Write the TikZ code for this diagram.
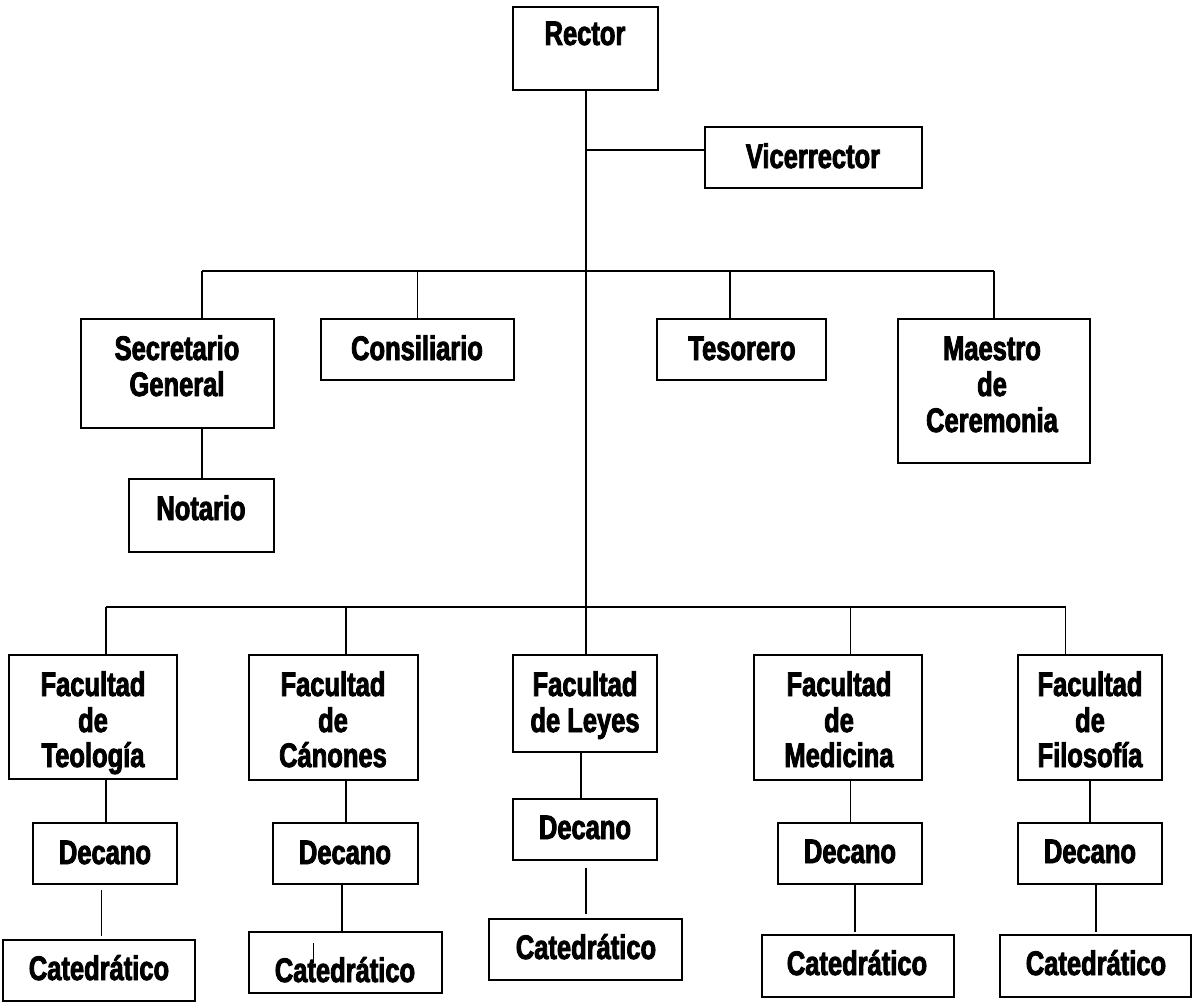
\documentclass[tikz,border=0pt]{standalone}
\usepackage{fontspec}
\newfontfamily\heavy{Liberation Sans Bold}[FakeStretch=0.75,FakeBold=2.5]
\begin{document}
\begin{tikzpicture}[x=1pt,y=-1pt,
  line width=1.8pt,
  lbl/.style={anchor=base, inner sep=0pt, font=\heavy\fontsize{34}{36}\selectfont},
  link/.style={line width=1.8pt}]
\useasboundingbox (0,0) rectangle (1192,1006);

% box at corners (x1,y1) - (x2,y2)
\newcommand\orgbox[5]{%
  \pgfmathsetmacro\bw{#4-#2}\pgfmathsetmacro\bh{#5-#3}%
  \node[draw, inner sep=0pt, minimum width=\bw pt, minimum height=\bh pt]
    (#1) at ({(#2+#4)/2},{(#3+#5)/2}) {};}
\newcommand\txt[3]{\node[lbl] at (#1,#2) {#3};}

% ---- top level
\orgbox{rector}{513}{7}{658}{90}
\orgbox{vice}{705}{127}{922}{188}
\txt{585}{45}{Rector}
\txt{813}{168}{Vicerrector}

% ---- officers
\orgbox{sec}{81}{319}{274}{428}
\orgbox{notario}{129}{479}{274}{552}
\orgbox{consil}{321}{319}{514}{380}
\orgbox{teso}{657}{319}{826}{380}
\orgbox{maestro}{898}{319}{1090}{463}
\txt{177}{360}{Secretario}
\txt{177}{396}{General}
\txt{201}{520}{Notario}
\txt{417}{360}{Consiliario}
\txt{742}{360}{Tesorero}
\txt{992}{360}{Maestro}
\txt{992}{396}{de}
\txt{992}{432}{Ceremonia}

% ---- faculties
\orgbox{teo}{9}{655}{177}{779}
\orgbox{teoDec}{33}{823}{177}{884}
\orgbox{teoCat}{3}{940}{195}{1001}
\txt{93}{696}{Facultad}
\txt{93}{732}{de}
\txt{93}{767}{Teología}
\txt{105}{864}{Decano}
\txt{99}{980}{Catedrático}

\orgbox{can}{249}{655}{418}{780}
\orgbox{canDec}{273}{823}{418}{884}
\orgbox{canCat}{249}{932}{442}{993}
\txt{333}{696}{Facultad}
\txt{333}{732}{de}
\txt{333}{767}{Cánones}
\txt{345}{864}{Decano}
\txt{345}{982}{Catedrático}

\orgbox{ley}{513}{655}{657}{752}
\orgbox{leyDec}{513}{799}{657}{860}
\orgbox{leyCat}{489}{919}{682}{980}
\txt{585}{696}{Facultad}
\txt{585}{732}{de Leyes}
\txt{585}{839}{Decano}
\txt{586}{959}{Catedrático}

\orgbox{med}{754}{655}{922}{780}
\orgbox{medDec}{778}{823}{922}{884}
\orgbox{medCat}{762}{935}{954}{997}
\txt{839}{696}{Facultad}
\txt{839}{732}{de}
\txt{839}{767}{Medicina}
\txt{850}{863}{Decano}
\txt{857}{975}{Catedrático}

\orgbox{fil}{1018}{655}{1162}{780}
\orgbox{filDec}{1018}{823}{1162}{884}
\orgbox{filCat}{1000}{935}{1191}{997}
\txt{1090}{696}{Facultad}
\txt{1090}{732}{de}
\txt{1090}{767}{Filosofía}
\txt{1090}{863}{Decano}
\txt{1096}{975}{Catedrático}

% ---- bus coordinates
\coordinate (vjoin) at (586,150);
\coordinate (upL) at (202,271);
\coordinate (upR) at (994,271);
\coordinate (upC) at (417.5,271);
\coordinate (upT) at (730,271);
\coordinate (loL) at (105.6,607);
\coordinate (loR) at (1065.5,607);
\coordinate (loC) at (345.6,607);
\coordinate (loM) at (850.5,607);
\coordinate (loT) at (586,607);

% ---- connectors
\draw[link] (rector.south -| loT) -- (loT);
\draw[link] (vjoin) -- (vice.west |- vjoin);
\draw[link] (upL) -- (upR);
\draw[link] (upL) -- (upL |- sec.north);
\draw[link] (upC) -- (upC |- consil.north);
\draw[link] (upT) -- (upT |- teso.north);
\draw[link] (upR) -- (upR |- maestro.north);
\draw[link] (upL |- sec.south) -- (upL |- notario.north);

\draw[link] (loL) -- (loR);
\draw[link] (loL) -- (loL |- teo.north);
\draw[link] (loC) -- (loC |- can.north);
\draw[link] (loT) -- (loT |- ley.north);
\draw[link] (loM) -- (loM |- med.north);
\draw[link] (loR) -- (loR |- fil.north);

\draw[link] (loL |- teo.south) -- (loL |- teoDec.north);
\draw[link] (loC |- can.south) -- (loC |- canDec.north);
\draw[link] (581,752) coordinate (leyS) -- (leyS |- leyDec.north);
\draw[link] (loM |- med.south) -- (loM |- medDec.north);
\draw[link] (1090,780) coordinate (filS) -- (filS |- filDec.north);

\coordinate (teoX) at (101.4,900);
\coordinate (canX) at (341.7,900);
\coordinate (leyX) at (586,900);
\coordinate (medX) at (855,900);
\coordinate (filX) at (1096,900);
\draw[link, shorten <=5pt, shorten >=3pt] (teoX |- teoDec.south) -- (teoX |- teoCat.north);
\draw[link] (canX |- canDec.south) -- (canX |- canCat.north);
\draw[link, shorten <=7pt, shorten >=4pt] (leyX |- leyDec.south) -- (leyX |- leyCat.north);
\draw[link, shorten >=2pt] (medX |- medDec.south) -- (medX |- medCat.north);
\draw[link, shorten >=2pt] (filX |- filDec.south) -- (filX |- filCat.north);

% short stroke inside the second Catedrático box
\coordinate (strayA) at (313.3,943);
\coordinate (strayB) at (313.3,963);
\draw[line width=1.5pt] (strayA) -- (strayB);
\end{tikzpicture}
\end{document}
